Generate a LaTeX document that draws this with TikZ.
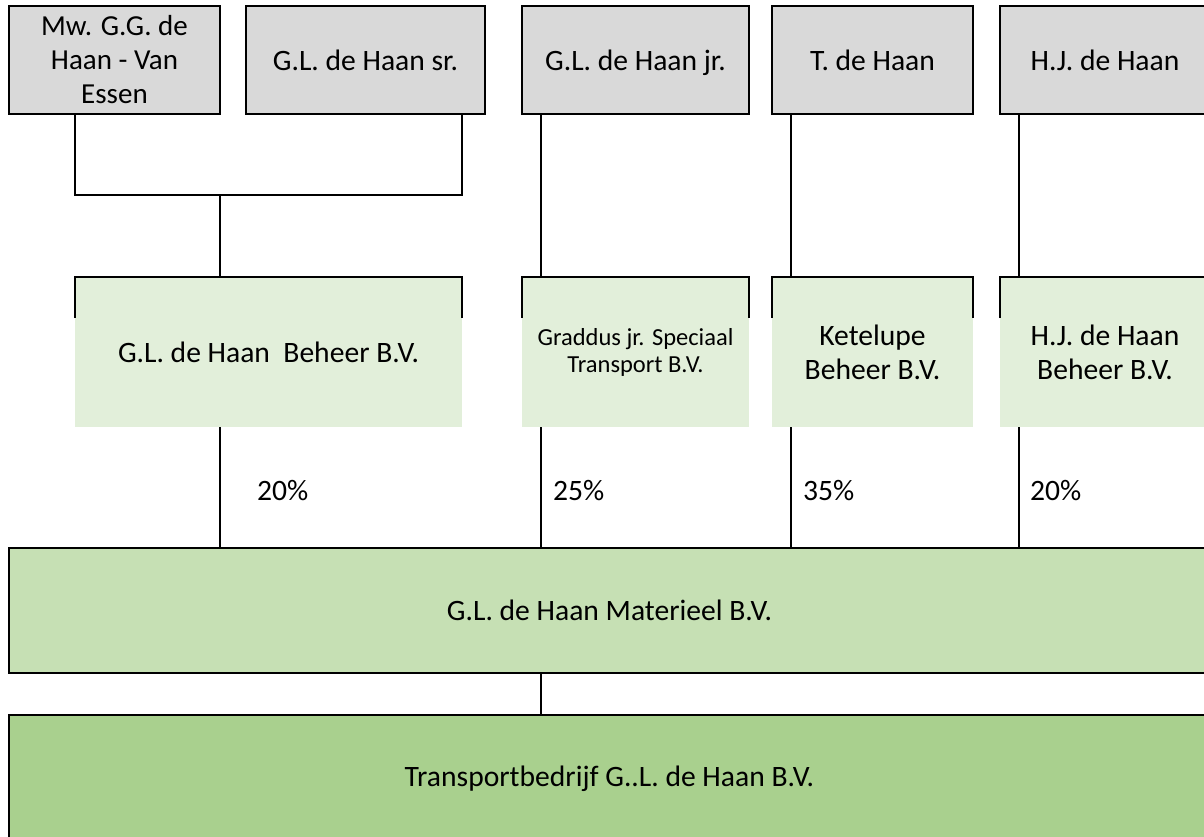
\documentclass[tikz,border=0pt]{standalone}
\usepackage{fontspec}
\setmainfont{Carlito}
\definecolor{boxgray}{HTML}{D9D9D9}
\definecolor{holdgreen}{HTML}{E2EFDA}
\definecolor{matgreen}{HTML}{C6E0B4}
\definecolor{trgreen}{HTML}{A9D08E}
\begin{document}
\begin{tikzpicture}[x=1pt,y=-1pt,
  txt/.style={font=\fontsize{29.6}{34}\selectfont, align=center, text=black},
  oneline/.style={text height=20pt, text depth=0pt},
  person/.style={txt, draw=black, line width=1.6pt, fill=boxgray, anchor=north west,
    inner sep=0pt, outer sep=0pt, minimum height=108pt},
  holding/.style={txt, fill=holdgreen, anchor=north west, inner sep=0pt, outer sep=0pt,
    minimum height=150pt},
  bigbox/.style={txt, draw=black, line width=1.6pt, anchor=north west, inner sep=0pt,
    outer sep=0pt, minimum width=1201pt},
  conn/.style={draw=black, line width=1.6pt},
  pct/.style={txt, anchor=base west, inner sep=0pt}]
\useasboundingbox (0,0) rectangle (1204,836);
\clip (0,0) rectangle (1204,836);
\fill[white] (0,0) rectangle (1204,836);

% top row: persons
\node[person, minimum width=211pt, font=\fontsize{29}{34}\selectfont] (mw) at (9,6) {Mw. G.G. de\\Haan - Van\\Essen};
\node[person, oneline, minimum width=239pt] (sr) at (246,6) {G.L. de Haan sr.};
\node[person, oneline, minimum width=227pt] (jr) at (522,6) {G.L. de Haan jr.};
\node[person, oneline, minimum width=201pt] (td) at (772,6) {T. de Haan};
\node[person, oneline, minimum width=210pt] (hj) at (1000,6) {H.J. de Haan};

% middle row: holdings
\node[holding, minimum width=387pt] (beh) at (75,277) {G.L. de Haan\ \ Beheer B.V.};
\node[holding, minimum width=227pt, font=\fontsize{24.5}{27}\selectfont] (grad) at (522,277) {Graddus jr. Speciaal\\Transport B.V.};
\node[holding, minimum width=201pt] (ket) at (772,277) {Ketelupe\\Beheer B.V.};
\node[holding, minimum width=210pt] (hjb) at (1000,277) {H.J. de Haan\\Beheer B.V.};

% top borders with short ticks of the holdings
\foreach \n in {beh,grad,ket,hjb}{
  \draw[conn] ([yshift=-41pt]\n.north west) -- (\n.north west) -- (\n.north east) -- ([yshift=-41pt]\n.north east);
}

% bottom boxes
\node[bigbox, fill=matgreen, minimum height=125pt] (mat) at (9,548) {G.L. de Haan Materieel B.V.};
\node[bigbox, fill=trgreen, minimum height=128pt] (tr) at (9,715) {Transportbedrijf G..L. de Haan B.V.};

% connectors persons -> holdings
\coordinate (j1) at (220,195);
\draw[conn] ([xshift=66pt]mw.south west) |- (j1) -| ([xshift=-23pt]sr.south east);
\draw[conn] (j1) -- (j1 |- beh.north);
\draw[conn] ([xshift=19pt]jr.south west) -- ([xshift=19pt]grad.north west);
\draw[conn] ([xshift=19pt]td.south west) -- ([xshift=19pt]ket.north west);
\draw[conn] ([xshift=19pt]hj.south west) -- ([xshift=19pt]hjb.north west);

% connectors holdings -> materieel
\coordinate (b1) at ([xshift=145pt]beh.south west);
\coordinate (b2) at ([xshift=19pt]grad.south west);
\coordinate (b3) at ([xshift=19pt]ket.south west);
\coordinate (b4) at ([xshift=19pt]hjb.south west);
\foreach \c in {b1,b2,b3,b4}{
  \draw[conn] (\c) -- (\c |- mat.north);
}
\coordinate (m1) at (b2 |- mat.south);
\draw[conn] (m1) -- (m1 |- tr.north);

% percentages
\node[pct] (p1) at (257,500) {20\%};
\node[pct] (p2) at (553,500) {25\%};
\node[pct] (p3) at (803,500) {35\%};
\node[pct] (p4) at (1030,500) {20\%};
\end{tikzpicture}
\end{document}
